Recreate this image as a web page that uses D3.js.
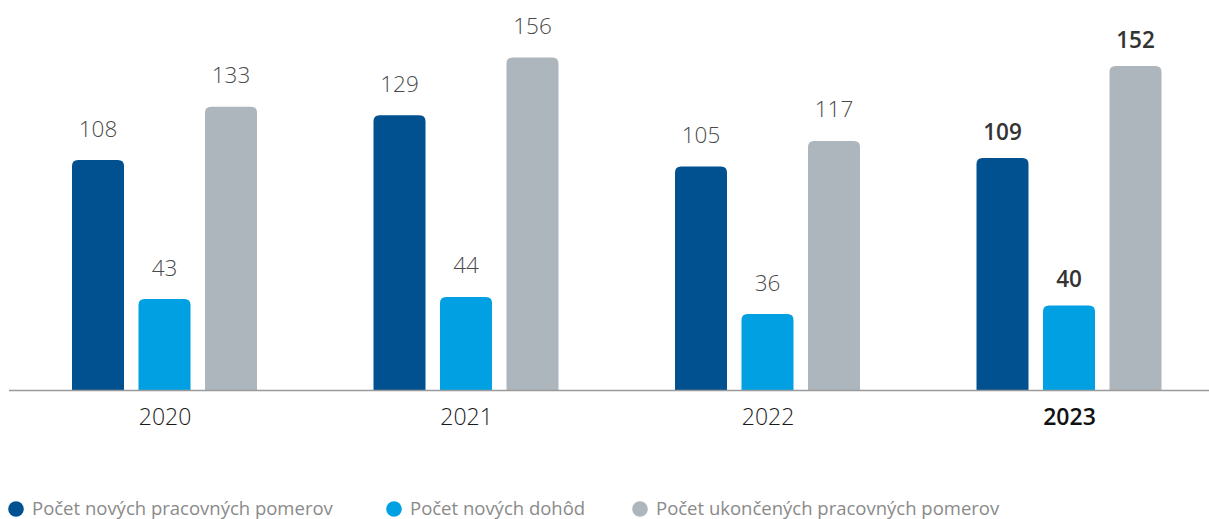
<!DOCTYPE html>
<html>
<head>
<meta charset="utf-8">
<script src="https://cdn.jsdelivr.net/npm/d3@7/dist/d3.min.js"></script>
<style>
  html, body { margin: 0; padding: 0; background: #fff; }
  svg { display: block; font-family: "Open Sans", "Noto Sans", sans-serif; }
</style>
</head>
<body>
<svg id="chart" width="1209" height="519"></svg>
<script>
const years = ["2020", "2021", "2022", "2023"];
const seriesNames = ["Počet nových pracovných pomerov", "Počet nových dohôd", "Počet ukončených pracovných pomerov"];
const newContracts = [108, 129, 105, 109];
const newAgreements = [43, 44, 36, 40];
const terminated = [133, 156, 117, 152];
const seriesColors = ["#01508f", "#00a0e2", "#adb5bd"];
const highlightYear = "2023";

const seriesValues = [newContracts, newAgreements, terminated];
const data = years.map((y, i) => ({
  year: y,
  values: seriesValues.map((arr, s) => ({ s, value: arr[i], year: y }))
}));

const svg = d3.select("#chart");
const baseline = 391;

const x = d3.scalePoint().domain(years).range([164.5, 1069]);
const inner = d3.scalePoint().domain(d3.range(3)).range([-66.5, 66.5]);
const barW = 52;
const y = d3.scaleLinear().domain([0, 156]).range([baseline, 57.5]);

function topRounded(x0, y0, w, h, r) {
  r = Math.min(r, h, w / 2);
  return `M${x0},${y0 + h}V${y0 + r}Q${x0},${y0} ${x0 + r},${y0}H${x0 + w - r}Q${x0 + w},${y0} ${x0 + w},${y0 + r}V${y0 + h}Z`;
}

const groups = svg.selectAll("g.grp").data(data).enter().append("g").attr("class", "grp");

groups.selectAll("path.bar").data(d => d.values).enter().append("path")
  .attr("class", "bar")
  .attr("fill", d => seriesColors[d.s])
  .attr("d", d => {
    const cx = x(d.year) + inner(d.s);
    return topRounded(cx - barW / 2, y(d.value), barW, baseline - y(d.value), 6);
  });

groups.selectAll("text.val").data(d => d.values).enter().append("text")
  .attr("class", "val")
  .attr("x", d => x(d.year) + inner(d.s))
  .attr("y", d => y(d.value) - (d.year === highlightYear ? 18 : 23.5))
  .attr("text-anchor", "middle")
  .attr("font-size", 22.5)
  .attr("font-weight", d => d.year === highlightYear ? 600 : 300)
  .attr("fill", d => d.year === highlightYear ? "#333" : "#4a4a4a")
  .text(d => d.value);

// axis baseline
svg.append("line")
  .attr("x1", 9).attr("x2", 1209)
  .attr("y1", baseline - 0.5).attr("y2", baseline - 0.5)
  .attr("stroke", "#9a9a9a").attr("stroke-width", 1.3);

// x axis labels
const xAxis = d3.axisBottom(x).tickSize(0).tickPadding(0);
const ax = svg.append("g").attr("transform", `translate(0,${baseline})`).call(xAxis);
ax.select(".domain").remove();
ax.selectAll("text")
  .attr("y", 33.5).attr("dy", 0)
  .attr("font-size", 23)
  .attr("font-family", "'Open Sans', sans-serif")
  .attr("fill", d => d === highlightYear ? "#111" : "#1a1a1a")
  .attr("font-weight", d => d === highlightYear ? 600 : 300);

// legend
const legendX = [16, 394, 640];
const lg = svg.selectAll("g.leg").data(seriesNames).enter().append("g")
  .attr("class", "leg")
  .attr("transform", (d, i) => `translate(${legendX[i]},509)`);
lg.append("circle").attr("r", 7.8).attr("fill", (d, i) => seriesColors[i]);
lg.append("text")
  .attr("x", 16).attr("y", 5.5)
  .attr("font-size", 18.5)
  .attr("font-weight", 400)
  .attr("fill", "#8a8a8a")
  .text(d => d);
</script>
</body>
</html>
